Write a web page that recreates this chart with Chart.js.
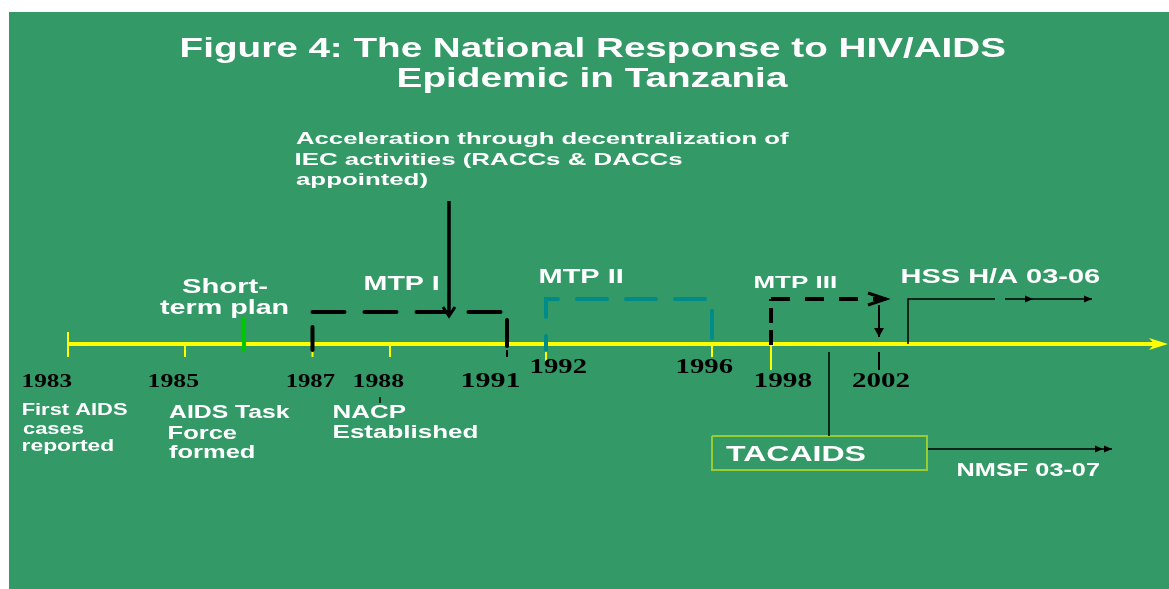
<!DOCTYPE html>
<html><head><meta charset="utf-8">
<script src="https://cdn.jsdelivr.net/npm/chart.js@4.4.1/dist/chart.umd.min.js"></script>
<style>html,body{margin:0;padding:0;background:#fff;} #wrap{width:1169px;height:589px;position:relative;}</style>
</head><body><div id="wrap"><canvas id="c"></canvas></div>
<script>
// ---------------- DATA ----------------
const titleLines = ['Figure 4: The National Response to HIV/AIDS', 'Epidemic in Tanzania'];
const years = ['1983','1985','1987','1988','1991','1992','1996','1998','2002'];
// position of each year along the (non-uniform) timeline
const yearPos = [0, 11.7, 24.45, 32.2, 43.9, 47.8, 64.4, 70.3, 81.1];
const yellowTickYears = ['1983','1985','1987','1988','1992','1996','1998'];
const blackTickYears = ['1991','2002'];
const eventLabels = [['First AIDS','cases','reported'], ['AIDS Task','Force','formed'], ['NACP','Established']];
const accelLabel = ['Acceleration through decentralization of','IEC activities (RACCs & DACCs','appointed)'];
const planLabels = [['Short-','term plan'], ['MTP I'], ['MTP II'], ['MTP III'], ['HSS H/A 03-06']];
const bodyLabels = ['TACAIDS', 'NMSF 03-07'];

// ---------------- LAYOUT / STYLE ----------------
const SANS = '"Liberation Sans", Arial, sans-serif';
const SERIF = '"Liberation Serif", "Times New Roman", serif';
const tickTop =    {'1983':1.2,'1985':0,'1987':0,'1988':0,'1991':-0.6,'1992':0,'1996':0,'1998':0,'2002':-0.8};
const tickBottom = {'1983':-1.3,'1985':-1.3,'1987':-1.3,'1988':-1.3,'1991':-1.3,'1992':-2.1,'1996':-1.3,'1998':-2.6,'2002':-2.6};
const yearTextLayout = [ // [x, baseline y, width, font size]
  [-4.5,-4.3,4.9,18],[8.1,-4.3,5.0,18],[21.9,-4.3,4.8,18],[28.6,-4.3,5.0,18],
  [39.4,-4.3,5.7,20],[46.3,-2.9,5.6,20],[60.9,-2.9,5.6,20],[68.7,-4.3,5.7,20],[78.4,-4.3,5.8,20]];
const titleLayout = [[11.3,28.7,82.4],[33.0,25.7,39.0]];
const eventLayout = [
  {size:16, lines:[[-4.5,-7.1,10.5],[-4.5,-9.0,6.1],[-4.5,-10.7,9.0]]},
  {size:18, lines:[[10.1,-7.4,12.2],[10.1,-9.5,6.8],[10.1,-11.4,8.5]]},
  {size:18, lines:[[26.6,-7.4,7.2],[26.6,-9.4,14.3]]}];
const accelLayout = {size:17, lines:[[22.8,20.0,49.3],[22.8,17.9,38.6],[22.8,15.9,13.1]]};
const planLayout = [
  {size:21, lines:[[11.4,5.1,8.6],[9.2,3.0,12.8]]},
  {size:20, lines:[[29.7,5.4,7.4]]},
  {size:20, lines:[[47.2,6.1,8.3]]},
  {size:17, lines:[[68.7,5.6,8.1]]},
  {size:20, lines:[[83.4,6.1,19.8]]}];
const bodyLayout = [{size:22, lines:[[65.8,-11.7,13.9]]}, {size:18, lines:[[89.0,-13.2,14.2]]}];

const P = y => yearPos[years.indexOf(y)];

function seg(points, style) {
  return Object.assign({
    data: points.map(([x, y]) => ({x, y})),
    showLine: true, pointRadius: 0, pointHoverRadius: 0, fill: false, tension: 0,
    borderJoinStyle: 'miter', borderColor: '#000', borderWidth: 2, order: 0
  }, style);
}

const datasets = [];
// main timeline
datasets.push(seg([[0,0],[109.4,0]], {borderColor:'#ffff00', borderWidth:4, order:2,
  arrow:{kind:'stealth', len:19, half:6, extend:6, color:'#ffff00'}}));
yellowTickYears.forEach(y => datasets.push(seg([[P(y), tickTop[y]],[P(y), tickBottom[y]]], {borderColor:'#ffff00', borderWidth:2, order:1})));
blackTickYears.forEach(y => datasets.push(seg([[P(y), tickTop[y]],[P(y), tickBottom[y]]], {borderColor:'#000', borderWidth:2})));
// NACP marker
datasets.push(seg([[31.2,-5.3],[31.2,-5.9]], {borderWidth:1.5}));
// short-term plan marker
datasets.push(seg([[17.6,2.6],[17.6,-0.7]], {borderColor:'#00c800', borderWidth:4}));
// MTP I bracket
datasets.push(seg([[P('1987'),-0.6],[P('1987'),1.7]], {borderWidth:4, borderCapStyle:'round'}));
datasets.push(seg([[P('1987'),3.2],[P('1991')-0.2,3.2]], {borderWidth:4, borderCapStyle:'round', borderDash:[32,20]}));
datasets.push(seg([[P('1991'),2.4],[P('1991'),-0.2]], {borderWidth:4, borderCapStyle:'round'}));
// acceleration arrow
datasets.push(seg([[38.1,14.3],[38.1,2.8]], {borderWidth:3.5, arrow:{kind:'open', len:9, half:6, width:3, color:'#000'}}));
// MTP II bracket
datasets.push(seg([[P('1992'),-0.6],[P('1992'),4.5],[P('1996'),4.5],[P('1996'),0.6]],
  {borderColor:'#008b8b', borderWidth:4, borderCapStyle:'round', borderDash:[30,19], borderDashOffset:16}));
// MTP III bracket
datasets.push(seg([[P('1998'),-0.1],[P('1998'),4.5]], {borderWidth:4, borderDash:[15,7]}));
datasets.push(seg([[P('1998'),4.5],[81.8,4.5]], {borderWidth:4, borderDash:[19,15],
  arrow:{kind:'open', len:18, half:6, width:3, color:'#000'}}));
// 2002 arrow
datasets.push(seg([[P('2002'),3.9],[P('2002'),0.7]], {borderWidth:2, arrow:{kind:'filled', len:9, half:5, color:'#000'}}));
// HSS H/A line
datasets.push(seg([[84.0,0],[84.0,4.5],[92.7,4.5]], {borderWidth:1.5}));
datasets.push(seg([[93.7,4.5],[96.5,4.5]], {borderWidth:1.5, arrow:{kind:'filled', len:8, half:3.5, color:'#000'}}));
datasets.push(seg([[96.5,4.5],[102.4,4.5]], {borderWidth:1.5, arrow:{kind:'filled', len:8, half:3.5, color:'#000'}}));
// TACAIDS
datasets.push(seg([[76.1,-0.8],[76.1,-9.2]], {borderWidth:1.5}));
datasets.push(seg([[64.4,-9.2],[85.9,-9.2],[85.9,-12.6],[64.4,-12.6],[64.4,-9.2]], {borderColor:'#99cc33', borderWidth:2}));
// NMSF line
datasets.push(seg([[85.9,-10.5],[103.5,-10.5]], {borderWidth:1.5, arrow:{kind:'filled', len:8, half:3.5, color:'#000'}}));
datasets.push(seg([[103.5,-10.5],[104.4,-10.5]], {borderWidth:1.5, arrow:{kind:'filled', len:8, half:3.5, color:'#000'}}));

// ---------------- PLUGINS ----------------
const background = {
  id: 'background',
  beforeDraw(chart) {
    const {ctx, scales:{x, y}} = chart;
    const l = x.getPixelForValue(-5.9), t = y.getPixelForValue(33.2);
    ctx.save();
    ctx.fillStyle = '#339966';
    ctx.fillRect(l, t, chart.width - l, chart.height - t);
    ctx.restore();
  }
};

const arrows = {
  id: 'arrows',
  afterDatasetsDraw(chart) {
    const ctx = chart.ctx;
    chart.data.datasets.forEach((ds, i) => {
      if (!ds.arrow) return;
      const pts = chart.getDatasetMeta(i).data;
      const p1 = pts[pts.length - 2], p2 = pts[pts.length - 1];
      const a = ds.arrow;
      const ang = Math.atan2(p2.y - p1.y, p2.x - p1.x);
      ctx.save();
      ctx.translate(p2.x, p2.y);
      ctx.rotate(ang);
      ctx.translate(a.extend || 0, 0);
      ctx.beginPath();
      if (a.kind === 'open') {
        ctx.moveTo(-a.len, -a.half); ctx.lineTo(0, 0); ctx.lineTo(-a.len, a.half);
        ctx.strokeStyle = a.color; ctx.lineWidth = a.width; ctx.lineJoin = 'miter'; ctx.stroke();
      } else {
        ctx.moveTo(0, 0); ctx.lineTo(-a.len, -a.half);
        if (a.kind === 'stealth') ctx.lineTo(-a.len * 0.72, 0);
        ctx.lineTo(-a.len, a.half); ctx.closePath();
        ctx.fillStyle = a.color; ctx.fill();
      }
      ctx.restore();
    });
  }
};

function drawText(chart, text, pos, size, family, color) {
  const {ctx, scales:{x, y}} = chart;
  const px = x.getPixelForValue(pos[0]);
  const py = y.getPixelForValue(pos[1]);
  const w = x.getPixelForValue(pos[0] + pos[2]) - px;
  ctx.save();
  ctx.font = 'bold ' + size + 'px ' + family;
  ctx.textAlign = 'left';
  ctx.textBaseline = 'alphabetic';
  const m = ctx.measureText(text);
  const mw = (m.actualBoundingBoxRight || m.width) + (m.actualBoundingBoxLeft || 0);
  ctx.translate(px, py);
  ctx.scale(w / mw, 1);
  ctx.fillStyle = color;
  ctx.fillText(text, m.actualBoundingBoxLeft || 0, 0);
  ctx.restore();
}

const labels = {
  id: 'labels',
  afterDraw(chart) {
    titleLines.forEach((t, i) => drawText(chart, t, titleLayout[i], 28, SANS, '#ffffff'));
    years.forEach((t, i) => drawText(chart, t, yearTextLayout[i], yearTextLayout[i][3], SERIF, '#000000'));
    eventLabels.forEach((lines, i) => lines.forEach((t, j) => drawText(chart, t, eventLayout[i].lines[j], eventLayout[i].size, SANS, '#ffffff')));
    accelLabel.forEach((t, j) => drawText(chart, t, accelLayout.lines[j], accelLayout.size, SANS, '#ffffff'));
    planLabels.forEach((lines, i) => lines.forEach((t, j) => drawText(chart, t, planLayout[i].lines[j], planLayout[i].size, SANS, '#ffffff')));
    bodyLabels.forEach((t, i) => drawText(chart, t, bodyLayout[i].lines[0], bodyLayout[i].size, SANS, '#ffffff'));
  }
};

new Chart(document.getElementById('c'), {
  type: 'scatter',
  data: { datasets },
  options: {
    responsive: true, maintainAspectRatio: false, animation: false,
    layout: { padding: 0 },
    scales: {
      x: { type: 'linear', min: -6.8, max: 110.1, display: false },
      y: { type: 'linear', min: -24.5, max: 34.4, display: false }
    },
    plugins: { legend: { display: false }, tooltip: { enabled: false }, title: { display: false } },
    events: []
  },
  plugins: [background, arrows, labels]
});
</script></body></html>
